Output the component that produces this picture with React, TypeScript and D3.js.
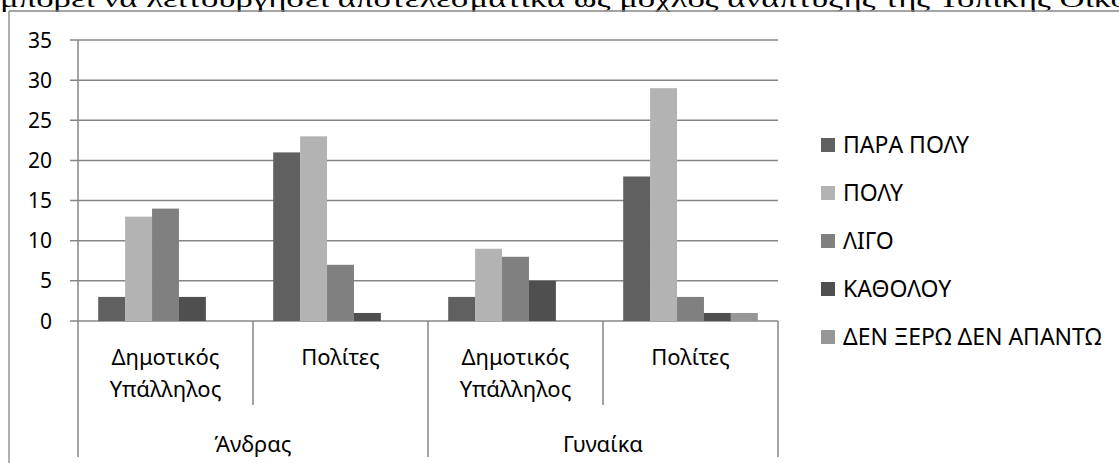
import React from "react";
import * as d3 from "d3";

// data
const genders = ["Άνδρας", "Γυναίκα"];
const roles = ["Δημοτικός Υπάλληλος", "Πολίτες"];
const seriesNames = ["ΠΑΡΑ ΠΟΛΥ", "ΠΟΛΥ", "ΛΙΓΟ", "ΚΑΘΟΛΟΥ", "ΔΕΝ ΞΕΡΩ ΔΕΝ ΑΠΑΝΤΩ"];
const paraPoly = [3, 21, 3, 18];
const poly = [13, 23, 9, 29];
const ligo = [14, 7, 8, 3];
const katholou = [3, 1, 5, 1];
const denXero = [0, 0, 0, 1];
const seriesColors = ["#606060", "#b3b3b3", "#808080", "#4f4f4f", "#969696"];
const yTicks = [0, 5, 10, 15, 20, 25, 30, 35];
const titleText = "μπορεί να λειτουργήσει αποτελεσματικά ως μοχλός ανάπτυξης της Τοπικής Οικο";

const W = 1119;
const H = 463;
const font = "'Noto Sans', sans-serif";
const lineColor = "#868686";

const App = () => {
  const allValues = [paraPoly, poly, ligo, katholou, denXero];
  const cats = genders.flatMap((g) => roles.map((r) => g + "|" + r));

  const x = d3.scaleBand().domain(cats).range([78, 778]).padding(0);
  const xInner = d3
    .scaleBand()
    .domain(seriesNames)
    .range([0, x.bandwidth()])
    .paddingInner(0)
    .paddingOuter(0.75);
  const y = d3.scaleLinear().domain([0, 35]).range([321, 40]);
  const xLeft = x.range()[0];
  const xRight = x.range()[1];
  const groupW = x.bandwidth() * roles.length;

  return (
    <svg
      width={W}
      height={H}
      style={{ position: "absolute", left: 0, top: 0, background: "#fff" }}
    >
      {/* cut-off document line above the chart (clipped in the original too) */}
      <text
        x={0}
        y={7}
        fontFamily="'Liberation Serif', serif"
        fontSize={24}
        textLength={1128}
        lengthAdjust="spacingAndGlyphs"
        fill="#000"
      >
        {titleText}
      </text>

      {/* chart frame */}
      <line x1={9} y1={11} x2={W} y2={11} stroke={lineColor} strokeWidth={1.3} />
      <line x1={9} y1={11} x2={9} y2={H} stroke={lineColor} strokeWidth={1.3} />

      {/* gridlines + y labels */}
      {yTicks.map((t) => (
        <g key={t}>
          <line
            x1={xLeft - 8}
            x2={xRight}
            y1={y(t)}
            y2={y(t)}
            stroke={lineColor}
            strokeWidth={1.5}
          />
          <text
            x={52}
            y={y(t) + 7.5}
            textAnchor="end"
            fontFamily={font}
            fontSize={21}
            fill="#000"
          >
            {t}
          </text>
        </g>
      ))}

      {/* bars */}
      {cats.map((c, ci) =>
        seriesNames.map((s, si) => {
          const v = allValues[si][ci];
          if (!v) return null;
          return (
            <rect
              key={c + s}
              x={(x(c) as number) + (xInner(s) as number)}
              y={y(v)}
              width={xInner.bandwidth()}
              height={y(0) - y(v)}
              fill={seriesColors[si]}
            />
          );
        })
      )}

      {/* y axis line */}
      <line x1={xLeft} x2={xLeft} y1={y(35)} y2={457} stroke={lineColor} strokeWidth={1.5} />

      {/* category axis: inner separators and labels */}
      {cats.map((c, ci) => {
        const cx = (x(c) as number) + x.bandwidth() / 2;
        const role = roles[ci % roles.length];
        const words = role.split(" ");
        return (
          <g key={c}>
            {ci % roles.length !== 0 && (
              <line
                x1={x(c) as number}
                x2={x(c) as number}
                y1={y(0)}
                y2={405}
                stroke={lineColor}
                strokeWidth={1.5}
              />
            )}
            <text
              textAnchor="middle"
              fontFamily={font}
              fontSize={22}
              fill="#000"
            >
              {words.map((w, wi) => (
                <tspan key={wi} x={cx} y={365 + wi * 32}>
                  {w}
                </tspan>
              ))}
            </text>
          </g>
        );
      })}

      {/* group separators and labels */}
      {genders.map((g, gi) => {
        const gx = xLeft + gi * groupW;
        return (
          <g key={g}>
            <line
              x1={gx + groupW}
              x2={gx + groupW}
              y1={y(0)}
              y2={457}
              stroke={lineColor}
              strokeWidth={1.5}
            />
            <text
              x={gx + groupW / 2}
              y={452}
              textAnchor="middle"
              fontFamily={font}
              fontSize={22}
              fill="#000"
            >
              {g}
            </text>
          </g>
        );
      })}

      {/* legend */}
      {seriesNames.map((s, si) => {
        const cy = 145 + si * 48;
        return (
          <g key={s}>
            <rect x={821} y={cy - 7} width={14} height={14} fill={seriesColors[si]} />
            <text x={843} y={cy + 8} fontFamily={font} fontSize={23} fill="#000">
              {s}
            </text>
          </g>
        );
      })}
    </svg>
  );
};

export default App;
